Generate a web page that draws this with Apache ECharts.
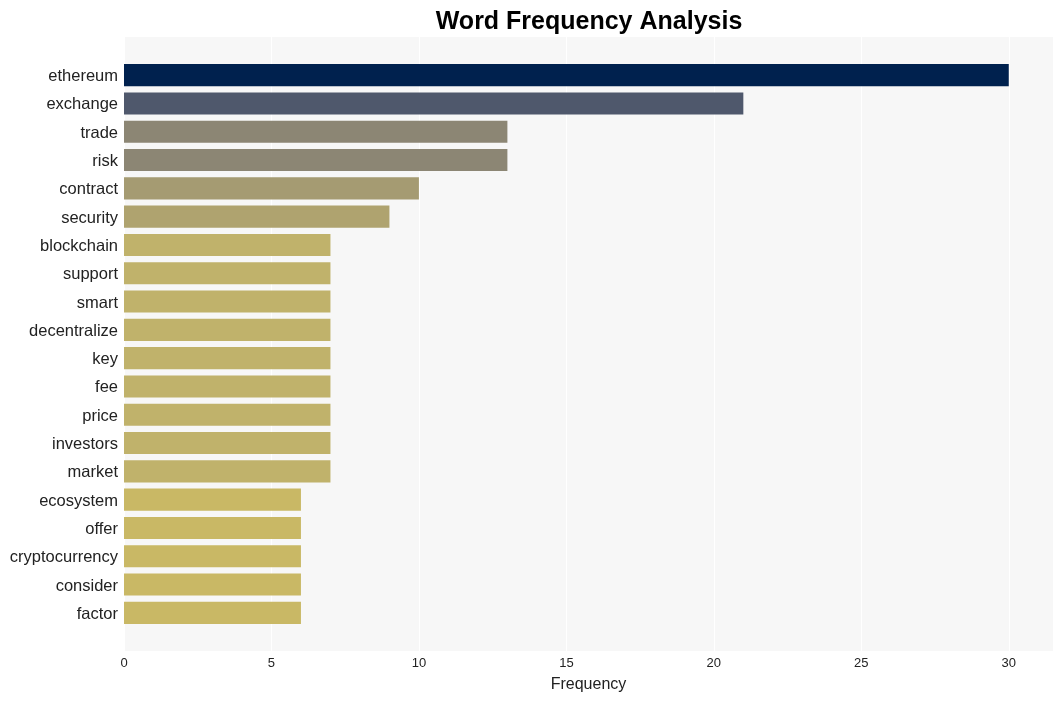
<!DOCTYPE html>
<html><head><meta charset="utf-8">
<script src="https://cdn.jsdelivr.net/npm/echarts@6/dist/echarts.min.js"></script>
<style>html,body{margin:0;padding:0;background:#fff}#c{width:1064px;height:701px}</style>
</head><body><div id="c"></div>
<script>
const categories = ["ethereum","exchange","trade","risk","contract","security","blockchain","support","smart","decentralize","key","fee","price","investors","market","ecosystem","offer","cryptocurrency","consider","factor"];
const values = [30,21,13,13,10,9,7,7,7,7,7,7,7,7,7,6,6,6,6,6];
const colors = ["#00214e","#4f586c","#8c8674","#8c8674","#a59b72","#afa36f","#c0b26b","#c0b26b","#c0b26b","#c0b26b","#c0b26b","#c0b26b","#c0b26b","#c0b26b","#c0b26b","#c9b865","#c9b865","#c9b865","#c9b865","#c9b865"];
const xTicks = [0,5,10,15,20,25,30];

const chart = echarts.init(document.getElementById('c'));
const font = 'Liberation Sans, Arial, sans-serif';
chart.setOption({
  animation:false,
  title:{text:'Word Frequency Analysis',left:584,top:5,textAlign:'center',textStyle:{fontFamily:font,fontSize:25,fontWeight:'bold',color:'#000'}},
  grid:[
    {left:124,right:11,top:37,bottom:50,show:true,backgroundColor:'#f7f7f7',borderWidth:0},
    {left:124,right:11,top:61,bottom:74}
  ],
  xAxis:[
    {gridIndex:0,type:'value',min:0,max:31.5,interval:5,
     axisLine:{show:false},axisTick:{show:false},
     axisLabel:{showMaxLabel:false,fontFamily:font,fontSize:13,color:'#222',margin:6,
       formatter:v=>xTicks.includes(v)?String(v):''},
     splitLine:{show:true,lineStyle:{color:'#ffffff',width:1}},
     name:'Frequency',nameLocation:'middle',nameGap:26,nameTextStyle:{fontFamily:font,fontSize:16,color:'#222'}},
    {gridIndex:1,type:'value',min:0,max:31.5,show:false}
  ],
  yAxis:[
    {gridIndex:0,type:'value',show:false,splitLine:{show:false}},
    {gridIndex:1,type:'category',inverse:true,data:categories,
     axisLine:{show:false},axisTick:{show:false},
     axisLabel:{fontFamily:font,fontSize:16.5,color:'#222',margin:6,lineHeight:19,verticalAlign:'middle',
       formatter:v=>'{a|'+v+'}',rich:{a:{fontFamily:font,fontSize:16.5,color:'#222',padding:[3,0,0,0]}}},
     splitLine:{show:false}}
  ],
  series:[{
    type:'bar',xAxisIndex:1,yAxisIndex:1,
    data:values.map((v,i)=>({value:v,itemStyle:{color:colors[i]}})),
    barCategoryGap:'22%'
  }]
});
</script></body></html>
